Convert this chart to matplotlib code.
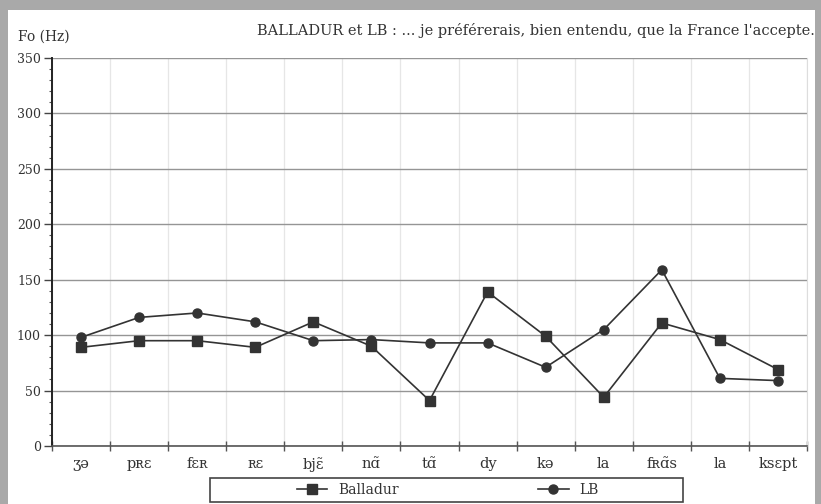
import matplotlib
matplotlib.use("Agg")
import matplotlib.pyplot as plt
from matplotlib.patches import Rectangle
from matplotlib.ticker import MultipleLocator

plt.rcParams["font.family"] = ["DejaVu Serif", "DejaVu Sans"]

syllables = ["ʒə", "pʀɛ", "fɛʀ", "ʀɛ", "bjɛ̃", "nɑ̃", "tɑ̃", "dy", "kə",
             "la", "fʀɑ̃s", "la", "ksɛpt"]
balladur = [89, 95, 95, 89, 112, 90, 41, 139, 99, 44, 111, 96, 69]
lb = [98, 116, 120, 112, 95, 96, 93, 93, 71, 105, 159, 61, 59]

ink = "#333333"

fig = plt.figure(figsize=(8.21, 5.04), dpi=100)
fig.patch.set_facecolor("#a9a9a9")
# scanned page
fig.patches.append(Rectangle((8 / 821, 0), 807 / 821, 494 / 504,
                             transform=fig.transFigure, facecolor="white",
                             edgecolor="none", zorder=-5))

ax = fig.add_axes([52 / 821, 58 / 504, 755 / 821, 388 / 504])
ax.set_facecolor("white")

x = list(range(len(syllables)))
ax.plot(x, balladur, color=ink, lw=1.2, marker="s", ms=6.5,
        label="Balladur", zorder=3)
ax.plot(x, lb, color=ink, lw=1.2, marker="o", ms=6.5, label="LB", zorder=3)

ax.set_xlim(-0.5, len(syllables) - 0.5)
ax.set_ylim(0, 350)

# category boundaries as major ticks, labels on the centres
ax.set_xticks([i - 0.5 for i in range(len(syllables) + 1)])
ax.set_xticklabels([])
ax.set_xticks(x, minor=True)
ax.set_xticklabels(syllables, minor=True, fontsize=10.5, color=ink)
ax.tick_params(axis="x", which="major", direction="inout", length=7,
               width=1, color="#555555")
ax.tick_params(axis="x", which="minor", length=0, pad=8)

ax.yaxis.set_major_locator(MultipleLocator(50))
ax.yaxis.set_minor_locator(MultipleLocator(10))
ax.tick_params(axis="y", which="major", length=6, width=1, color="#444444",
               labelsize=9, labelcolor=ink, pad=2)
ax.tick_params(axis="y", which="minor", length=2.5, width=0.8,
               color="#555555")

ax.grid(axis="y", which="major", color="#959595", lw=1)
ax.grid(axis="x", which="major", color="#e6e6e6", lw=0.9)
ax.set_axisbelow(True)

ax.spines["top"].set_visible(False)
ax.spines["right"].set_color("#dddddd")
ax.spines["left"].set_color("#222222")
ax.spines["left"].set_linewidth(1.4)
ax.spines["bottom"].set_color("#555555")
ax.spines["bottom"].set_linewidth(1.2)

fig.text(18 / 821, 1 - 37 / 504, "Fo (Hz)", fontsize=10, color=ink,
         va="center", ha="left")
fig.text(815 / 821, 1 - 30 / 504,
         "BALLADUR et LB : ... je préférerais, bien entendu, que la France l'accepte.",
         fontsize=10.5, color=ink, va="center", ha="right")

# legend box
fig.patches.append(Rectangle((210 / 821, 2 / 504), 473 / 821, 24 / 504,
                             transform=fig.transFigure, facecolor="white",
                             edgecolor="#444444", lw=1.2, zorder=1))
fig.legend(loc="center", bbox_to_anchor=(448 / 821, 14 / 504), ncol=2,
           frameon=False, fontsize=10, handlelength=2.2, handletextpad=0.8,
           columnspacing=10.0, labelcolor=ink)

fig.savefig("out.png", dpi=100, facecolor=fig.get_facecolor())
